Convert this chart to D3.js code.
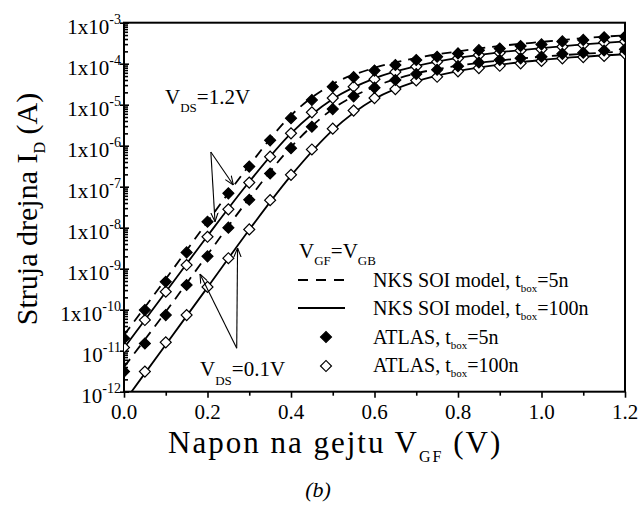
<!DOCTYPE html>
<html><head><meta charset="utf-8">
<script src="https://cdn.jsdelivr.net/npm/d3@7"></script>
<style>
body{margin:0;background:#fff}
svg text{font-family:"Liberation Serif","DejaVu Serif",serif;fill:#000}
</style>
</head><body>
<svg id="c" width="639" height="509" font-family="Liberation Serif, DejaVu Serif, serif"></svg>
<script>
// ---------- data ----------
const xTicks = [0, 0.2, 0.4, 0.6, 0.8, 1.0, 1.2];
const xTickLabels = ["0.0", "0.2", "0.4", "0.6", "0.8", "1.0", "1.2"];
const xMinorTicks = [0.1, 0.3, 0.5, 0.7, 0.9, 1.1];
const yTicks = [1e-3, 1e-4, 1e-5, 1e-6, 1e-7, 1e-8, 1e-9, 1e-10, 1e-11, 1e-12];
const yTickBase = ["1x10", "1x10", "1x10", "1x10", "1x10", "1x10", "1x10", "1x10", "10", "10"];
const yTickExp = ["-3", "-4", "-5", "-6", "-7", "-8", "-9", "-10", "-11", "-12"];

// ATLAS simulation points (V_GF in V, I_D in A)
const vAtlas = [0, 0.05, 0.1, 0.15, 0.2, 0.25, 0.3, 0.35, 0.4, 0.45, 0.5, 0.55, 0.6,
                0.65, 0.7, 0.75, 0.8, 0.85, 0.9, 0.95, 1.0, 1.05, 1.1, 1.15, 1.2];
const atlas5n_12 = [2.0e-11, 9.8e-11, 4.8e-10, 2.5e-9, 1.4e-8, 6.9e-8, 3.1e-7, 1.35e-6, 4.7e-6, 1.3e-5,
                    2.75e-5, 4.7e-5, 6.8e-5, 9.3e-5, 1.23e-4, 1.48e-4, 1.78e-4, 2.14e-4, 2.34e-4, 2.7e-4,
                    2.95e-4, 3.5e-4, 3.8e-4, 4.4e-4, 4.6e-4];
const atlas100n_12 = [1.2e-11, 5.6e-11, 2.75e-10, 1.23e-9, 6.0e-9, 2.8e-8, 1.26e-7, 5.4e-7, 2.0e-6, 6.5e-6,
                      1.45e-5, 2.75e-5, 4.2e-5, 6.3e-5, 8.5e-5, 1.12e-4, 1.35e-4, 1.62e-4, 1.86e-4, 2.1e-4,
                      2.24e-4, 2.6e-4, 2.9e-4, 3.3e-4, 3.5e-4];
const atlas5n_01 = [3.1e-12, 1.5e-11, 7.4e-11, 4.0e-10, 2.0e-9, 1.0e-8, 4.8e-8, 2.1e-7, 8.7e-7, 2.9e-6,
                    7.8e-6, 1.6e-5, 2.6e-5, 4.0e-5, 5.6e-5, 7.1e-5, 8.7e-5, 1.07e-4, 1.23e-4, 1.35e-4,
                    1.48e-4, 1.74e-4, 1.86e-4, 2.1e-4, 2.24e-4];
const atlas100n_01 = [null, 3.1e-12, 1.6e-11, 7.4e-11, 3.6e-10, 1.8e-9, 9.1e-9, 4.7e-8, 1.95e-7, 8.1e-7,
                      2.6e-6, 7.2e-6, 1.45e-5, 2.4e-5, 3.9e-5, 4.8e-5, 6.5e-5, 7.8e-5, 8.9e-5, 1.02e-4,
                      1.17e-4, 1.35e-4, 1.45e-4, 1.55e-4, 1.74e-4];

// NKS SOI model curves
const vModel = [0, 0.1, 0.2, 0.3, 0.4, 0.5, 0.6, 0.7, 0.8, 0.9, 1.0, 1.1, 1.2];
const nks5n_12 = [2.4e-11, 5.6e-10, 1.4e-8, 3.3e-7, 5.5e-6, 3.2e-5, 7.9e-5, 1.38e-4, 2.0e-4, 2.7e-4, 3.4e-4, 4.2e-4, 4.9e-4];
const nks100n_12 = [1.17e-11, 2.7e-10, 6.3e-9, 1.32e-7, 2.0e-6, 1.38e-5, 4.4e-5, 8.7e-5, 1.38e-4, 1.9e-4, 2.4e-4, 2.95e-4, 3.5e-4];
const nks5n_01 = [4.0e-12, 8.9e-11, 2.2e-9, 5.2e-8, 9.3e-7, 7.9e-6, 2.75e-5, 5.8e-5, 8.9e-5, 1.2e-4, 1.48e-4, 1.74e-4, 2.0e-4];
const nks100n_01 = [5.6e-13, 1.4e-11, 3.5e-10, 8.9e-9, 1.86e-7, 2.4e-6, 1.38e-5, 3.7e-5, 6.6e-5, 9.5e-5, 1.23e-4, 1.48e-4, 1.7e-4];

// annotation anchor points in data units [V, A]
const arrow12From = [0.208, 7.0e-7];
const arrow12To = [[0.262, 1.1e-7], [0.218, 1.4e-8]];
const arrow01From = [0.270, 1.15e-11];
const arrow01To = [[0.182, 7.4e-10], [0.272, 3.2e-9]];

// ---------- chart ----------
const svg = d3.select("#c");
const L = 124, R = 625, T = 22.7, B = 391.7;
const x = d3.scaleLinear().domain([0, 1.2]).range([L, R]);
const y = d3.scaleLog().domain([1e-12, 1e-3]).range([B, T]);

svg.append("defs").append("clipPath").attr("id", "clip")
  .append("rect").attr("x", L).attr("y", T).attr("width", R - L).attr("height", B - T);

// bottom axis
svg.append("g").attr("transform", `translate(0,${B})`)
  .call(d3.axisBottom(x).tickValues(xTicks).tickSize(6).tickFormat(""));
svg.append("g").attr("transform", `translate(0,${B})`)
  .call(d3.axisBottom(x).tickValues(xMinorTicks).tickSize(4).tickFormat(""));
// left axis (major crossing, minor inward)
const minor = [];
for (let e = -12; e < -3; e++) for (let m = 2; m <= 9; m++) minor.push(m * Math.pow(10, e));
svg.append("g").attr("transform", `translate(${L},0)`)
  .call(d3.axisLeft(y).tickValues(minor).tickSize(-4).tickFormat(""));
svg.append("g").attr("transform", `translate(${L + 5},0)`)
  .call(d3.axisLeft(y).tickValues(yTicks).tickSize(9).tickFormat(""));
svg.selectAll(".domain").remove();
svg.selectAll(".tick line").attr("stroke", "#000").attr("stroke-width", 1.6);

// frame
svg.append("rect").attr("x", L).attr("y", T).attr("width", R - L).attr("height", B - T)
  .attr("fill", "none").attr("stroke", "#000").attr("stroke-width", 2);

// tick labels
xTicks.forEach((v, i) => {
  svg.append("text").attr("x", x(v)).attr("y", 419).attr("text-anchor", "middle")
    .attr("font-size", 21).text(xTickLabels[i]);
});
yTicks.forEach((v, i) => {
  const t = svg.append("text").attr("x", 121).attr("y", y(v) + 11).attr("text-anchor", "end")
    .attr("font-size", 21);
  t.append("tspan").text(yTickBase[i]);
  t.append("tspan").attr("font-size", 14).attr("dy", -10).text(yTickExp[i]);
});

// curves
const line = d3.line().x(d => x(d[0])).y(d => y(d[1])).curve(d3.curveMonotoneX);
const plot = svg.append("g").attr("clip-path", "url(#clip)");
const curves = [
  {vals: nks5n_12, dash: "10,7"},
  {vals: nks5n_01, dash: "10,7"},
  {vals: nks100n_12, dash: null},
  {vals: nks100n_01, dash: null}
];
curves.forEach(c => {
  plot.append("path").datum(vModel.map((v, i) => [v, c.vals[i]]))
    .attr("d", line).attr("fill", "none").attr("stroke", "#000")
    .attr("stroke-width", 1.8).attr("stroke-dasharray", c.dash);
});

// markers
const diamond = d3.symbol().type(d3.symbolSquare).size(60);
function drawMarkers(vals, filled) {
  const pts = vAtlas.map((v, i) => [v, vals[i]]).filter(d => d[1] != null);
  plot.selectAll(null).data(pts).enter().append("path")
    .attr("d", diamond)
    .attr("transform", d => `translate(${x(d[0])},${y(d[1])}) rotate(45)`)
    .attr("fill", filled ? "#000" : "#fff")
    .attr("stroke", "#000").attr("stroke-width", 1.2);
}
drawMarkers(atlas100n_12, false);
drawMarkers(atlas100n_01, false);
drawMarkers(atlas5n_12, true);
drawMarkers(atlas5n_01, true);

// arrows
const defs = svg.select("defs");
defs.append("marker").attr("id", "ah").attr("viewBox", "0 0 10 10").attr("refX", 10).attr("refY", 5)
  .attr("markerWidth", 9).attr("markerHeight", 9).attr("markerUnits", "userSpaceOnUse")
  .attr("orient", "auto")
  .append("path").attr("d", "M0,1 L10,5 L0,9").attr("fill", "none").attr("stroke", "#000").attr("stroke-width", 1.2);
function arrows(from, tos) {
  tos.forEach(t => {
    svg.append("line").attr("x1", x(from[0])).attr("y1", y(from[1]))
      .attr("x2", x(t[0])).attr("y2", y(t[1]))
      .attr("stroke", "#000").attr("stroke-width", 1.1).attr("marker-end", "url(#ah)");
  });
}
arrows(arrow12From, arrow12To);
arrows(arrow01From, arrow01To);

// annotation labels
function subText(xp, yp, size, parts) {
  const t = svg.append("text").attr("x", xp).attr("y", yp).attr("font-size", size);
  parts.forEach(p => {
    const s = t.append("tspan").text(p[0]);
    if (p[1] === "sub") s.attr("font-size", p[2] || 13).attr("dy", p[3] || 8);
    if (p[1] === "up") s.attr("dy", -(p[3] || 8));
  });
  return t;
}
subText(165, 104, 21, [["V"], ["DS", "sub", 13, 8], ["=1.2V", "up", 0, 8]]);
subText(200, 376, 21, [["V"], ["DS", "sub", 13, 9], ["=0.1V", "up", 0, 9]]);

// legend
subText(299, 258, 21, [["V"], ["GF", "sub", 13, 7], ["=V", "up", 0, 7], ["GB", "sub", 13, 7]]);
svg.append("line").attr("x1", 298).attr("x2", 345).attr("y1", 280).attr("y2", 280)
  .attr("stroke", "#000").attr("stroke-width", 1.8).attr("stroke-dasharray", "10,8");
svg.append("line").attr("x1", 298).attr("x2", 345).attr("y1", 308).attr("y2", 308)
  .attr("stroke", "#000").attr("stroke-width", 1.8);
svg.append("path").attr("d", diamond).attr("transform", "translate(326,337) rotate(45)")
  .attr("fill", "#000").attr("stroke", "#000").attr("stroke-width", 1.2);
svg.append("path").attr("d", diamond).attr("transform", "translate(326,366) rotate(45)")
  .attr("fill", "#fff").attr("stroke", "#000").attr("stroke-width", 1.2);
subText(373, 287, 20, [["NKS SOI model, t"], ["box", "sub", 11, 5], ["=5n", "up", 0, 5]]);
subText(373, 315, 20, [["NKS SOI model, t"], ["box", "sub", 11, 5], ["=100n", "up", 0, 5]]);
subText(373, 344, 20, [["ATLAS, t"], ["box", "sub", 11, 5], ["=5n", "up", 0, 5]]);
subText(373, 372, 20, [["ATLAS, t"], ["box", "sub", 11, 5], ["=100n", "up", 0, 5]]);

// axis titles
subText(168, 453, 31, [["Napon na gejtu V"], ["GF", "sub", 16, 9], [" (V)", "up", 0, 9]])
  .attr("letter-spacing", 2);
const yt = svg.append("text").attr("transform", "translate(37,209) rotate(-90)")
  .attr("text-anchor", "middle").attr("font-size", 30);
yt.append("tspan").text("Struja drejna I");
yt.append("tspan").attr("font-size", 16).attr("dy", 8).text("D");
yt.append("tspan").attr("dy", -8).text(" (A)");

svg.append("text").attr("x", 318).attr("y", 497).attr("text-anchor", "middle")
  .attr("font-size", 22).attr("font-style", "italic").text("(b)");
</script>
</body></html>
